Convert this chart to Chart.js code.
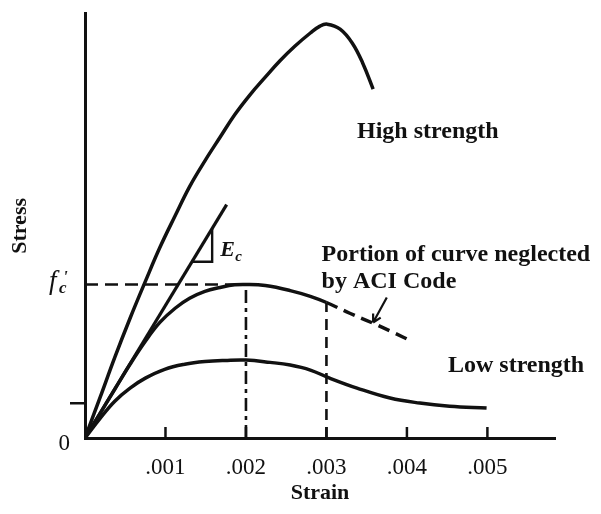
<!DOCTYPE html>
<html>
<head>
<meta charset="utf-8">
<script src="https://cdn.jsdelivr.net/npm/chart.js@4.4.0/dist/chart.umd.min.js"></script>
<style>
  body { margin: 0; background: #fff; }
  canvas { display: block; }
</style>
</head>
<body>
<canvas id="stressStrain" width="601" height="514"></canvas>
<script>
// axis ticks
const strainTicks = [0.001, 0.002, 0.003, 0.004, 0.005];
const strainTickLabels = ['.001', '.002', '.003', '.004', '.005'];
const stressTicks = [0, 0.9, 4];

// curves (strain, stress in arbitrary units, f'c = 4)
const highStrain = [0, 0.00019, 0.00037, 0.00056, 0.00075, 0.00093, 0.00112, 0.0013, 0.00149, 0.00168, 0.00186, 0.00205, 0.00224, 0.00242, 0.00261, 0.0028, 0.00292, 0.00301, 0.00317, 0.00332, 0.00345, 0.00358];
const highStress = [0, 1.07, 2.1, 3.12, 4.08, 4.96, 5.79, 6.55, 7.22, 7.84, 8.42, 8.94, 9.4, 9.82, 10.21, 10.55, 10.73, 10.78, 10.65, 10.29, 9.77, 9.09];

const midStrain = [0, 0.00019, 0.00037, 0.00056, 0.00075, 0.00093, 0.00112, 0.0013, 0.00149, 0.00168, 0.00186, 0.002, 0.00224, 0.00255, 0.0028, 0.003, 0.00329, 0.00358, 0.00385, 0.00406];
const midStress = [0, 0.65, 1.27, 1.92, 2.52, 3.01, 3.38, 3.64, 3.82, 3.92, 3.99, 4.0, 3.97, 3.84, 3.69, 3.53, 3.25, 2.99, 2.73, 2.52];

const lowStrain = [0, 0.00019, 0.00037, 0.00056, 0.00075, 0.00099, 0.00124, 0.00149, 0.00174, 0.002, 0.0023, 0.00255, 0.0028, 0.00304, 0.00338, 0.00379, 0.00416, 0.00453, 0.00499];
const lowStress = [0, 0.52, 0.96, 1.3, 1.56, 1.79, 1.92, 1.99, 2.02, 2.03, 1.97, 1.9, 1.77, 1.56, 1.3, 1.04, 0.91, 0.83, 0.78];

// initial tangent (Ec) and its slope triangle
const ecStrain = [0, 0.00176];
const ecStress = [0, 6.08];
const ecTriStrain = [0.00133, 0.00158, 0.00158];
const ecTriStress = [4.59, 4.59, 5.45];

const fcStress = 4;
const peakStrain = 0.002;
const ultimateStrain = 0.003;
const neglectedFrom = 0.003;

const toPoints = (xs, ys) => xs.map((x, i) => ({ x, y: ys[i] }));
const stressAt = (xs, ys, x) => ys[xs.indexOf(x)];

const FONT = "'Liberation Serif', 'Times New Roman', serif";
const INK = '#111';

const lineSet = (data, extra) => Object.assign({
  data,
  borderColor: INK,
  borderWidth: 3.5,
  pointRadius: 0,
  fill: false,
  tension: 0.4
}, extra || {});

const annotations = {
  id: 'annotations',
  afterDatasetsDraw(chart) {
    const { ctx, scales: { x, y } } = chart;
    const px = (v) => x.getPixelForValue(v);
    const py = (v) => y.getPixelForValue(v);

    ctx.save();
    ctx.strokeStyle = INK;
    ctx.fillStyle = INK;

    // inward tick marks on strain axis
    ctx.lineWidth = 2.5;
    strainTicks.forEach((t) => {
      ctx.beginPath();
      ctx.moveTo(px(t), py(0));
      ctx.lineTo(px(t), py(0) - 11);
      ctx.stroke();
    });

    // arrow pointing at the neglected part
    const from = { x: 0.00375, y: 3.66 };
    const to = { x: 0.00358, y: 3.01 };
    const x0 = px(from.x), y0 = py(from.y), x1 = px(to.x), y1 = py(to.y);
    const ang = Math.atan2(y1 - y0, x1 - x0);
    ctx.lineWidth = 2.2;
    ctx.beginPath();
    ctx.moveTo(x0, y0);
    ctx.lineTo(x1, y1);
    ctx.moveTo(x1, y1);
    ctx.lineTo(x1 - 9 * Math.cos(ang - 0.5), y1 - 9 * Math.sin(ang - 0.5));
    ctx.moveTo(x1, y1);
    ctx.lineTo(x1 - 9 * Math.cos(ang + 0.5), y1 - 9 * Math.sin(ang + 0.5));
    ctx.stroke();

    // text labels
    ctx.textBaseline = 'alphabetic';
    ctx.textAlign = 'left';
    ctx.font = `bold 24px ${FONT}`;
    [
      ['High strength', 0.00338, 7.82],
      ['Portion of curve neglected', 0.00294, 4.62],
      ['by ACI Code', 0.00294, 3.92],
      ['Low strength', 0.00451, 1.71]
    ].forEach(([text, sx, sy]) => ctx.fillText(text, px(sx), py(sy)));

    // E_c
    ctx.font = `italic bold 22px ${FONT}`;
    ctx.fillText('E', px(0.00168), py(4.75));
    ctx.font = `italic bold 15px ${FONT}`;
    ctx.fillText('c', px(0.00168) + 15, py(4.75) + 5);

    // f'c on the stress axis
    const fy = py(fcStress);
    ctx.font = `italic 27px ${FONT}`;
    ctx.fillText('f', 49, fy + 5);
    ctx.font = `italic bold 17px ${FONT}`;
    ctx.fillText("'", 63, fy - 2);
    ctx.fillText('c', 59, fy + 9);

    ctx.restore();
  }
};

new Chart(document.getElementById('stressStrain'), {
  type: 'line',
  data: {
    datasets: [
      lineSet(toPoints(highStrain, highStress)),
      lineSet(toPoints(midStrain, midStress), {
        segment: {
          borderDash: (c) => (c.p0.parsed.x >= neglectedFrom ? [12, 7] : undefined)
        }
      }),
      lineSet(toPoints(lowStrain, lowStress)),
      lineSet(toPoints(ecStrain, ecStress), { borderWidth: 3.2, tension: 0 }),
      lineSet(toPoints(ecTriStrain, ecTriStress), { borderWidth: 2.4, tension: 0 }),
      lineSet(toPoints([0, peakStrain], [fcStress, fcStress]), { borderWidth: 2.6, tension: 0, borderDash: [13, 7] }),
      lineSet(toPoints([peakStrain, peakStrain], [0, fcStress]), { borderWidth: 2.6, tension: 0, borderDash: [13, 5, 4, 5] }),
      lineSet(toPoints([ultimateStrain, ultimateStrain], [0, stressAt(midStrain, midStress, ultimateStrain)]), { borderWidth: 2.6, tension: 0, borderDash: [11, 7] })
    ]
  },
  options: {
    responsive: false,
    animation: false,
    events: [],
    layout: { padding: { left: 0, right: 46, top: 12, bottom: 0 } },
    plugins: {
      legend: { display: false },
      tooltip: { enabled: false }
    },
    scales: {
      x: {
        type: 'linear',
        min: 0,
        max: 0.00584,
        afterFit: (scale) => { scale.height = 76; },
        afterBuildTicks: (scale) => { scale.ticks = strainTicks.map((value) => ({ value })); },
        grid: { display: false },
        border: { display: true, color: INK, width: 3 },
        ticks: {
          color: INK,
          padding: 8,
          maxRotation: 0,
          font: { family: FONT, size: 23 },
          callback: (value) => strainTickLabels[strainTicks.indexOf(value)] || ''
        },
        title: {
          display: true,
          text: 'Strain',
          color: INK,
          font: { family: FONT, size: 22, weight: 'bold' },
          padding: { top: 0, bottom: 7 }
        }
      },
      y: {
        type: 'linear',
        min: 0,
        max: 11.05,
        afterFit: (scale) => { scale.width = 85; },
        afterBuildTicks: (scale) => { scale.ticks = stressTicks.map((value) => ({ value })); },
        grid: {
          display: true,
          drawOnChartArea: false,
          drawTicks: true,
          tickLength: 15,
          lineWidth: 2.5,
          color: (c) => (c.tick && c.tick.value === stressTicks[1] ? INK : 'rgba(0,0,0,0)')
        },
        border: { display: true, color: INK, width: 3 },
        ticks: {
          color: INK,
          padding: 0,
          labelOffset: 6,
          font: { family: FONT, size: 23 },
          callback: (value) => (value === 0 ? '0' : '')
        },
        title: {
          display: true,
          text: 'Stress',
          color: INK,
          font: { family: FONT, size: 22, weight: 'bold' },
          padding: { top: 7, bottom: 0 }
        }
      }
    }
  },
  plugins: [annotations]
});
</script>
</body>
</html>
